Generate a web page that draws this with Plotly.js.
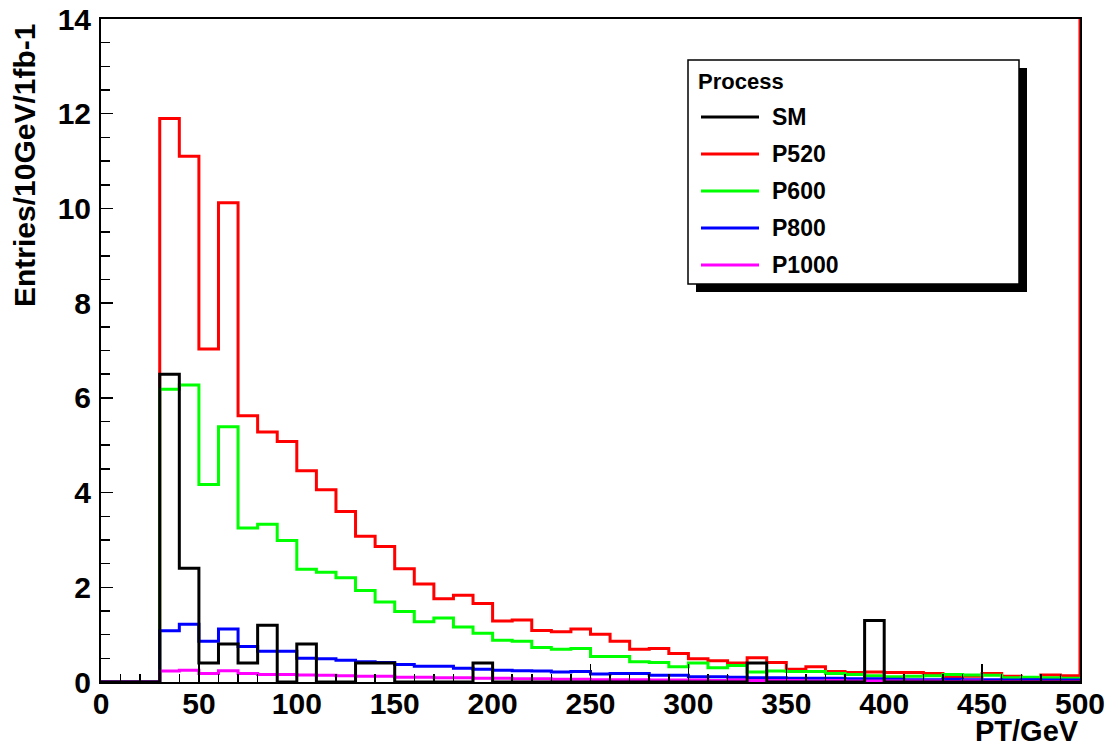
<!DOCTYPE html>
<html>
<head>
<meta charset="utf-8">
<script src="https://cdn.plot.ly/plotly-3.0.1.min.js"></script>
<style>
html,body{margin:0;padding:0;background:#fff;}
#chart{width:1108px;height:750px;}
</style>
</head>
<body>
<div id="chart"></div>
<script>
// Bin layout: 50 bins of 10 GeV from 0 to 500
var binWidth = 10;
var nBins = 50;

// Series (entries per 10 GeV per 1 fb-1), one value per bin
var seriesNames = ['SM', 'P520', 'P600', 'P800', 'P1000'];
var seriesColors = ['#000000', '#ff0000', '#00ff00', '#0000ff', '#ff00ff'];

var SM = [0,0,0, 6.5,2.4,0.4,0.8,0.4,1.2,0,0.8,0,0,0.4,0.4,0,0,0,0,0.4,
  0,0,0,0,0,0,0,0,0,0, 0,0,0,0.4,0,0,0,0,0,1.3, 0,0,0,0,0,0,0,0,0,0];
var P520 = [0,0,0, 11.9,11.1,7.03,10.12,5.62,5.28,5.08,4.46,4.06,3.6,3.08,2.86,2.39,2.07,1.76,1.83,1.66,
  1.29,1.31,1.09,1.06,1.12,1.01,0.86,0.69,0.71,0.60, 0.49,0.45,0.40,0.51,0.41,0.27,0.32,0.22,0.20,0.21,
  0.20,0.20,0.18,0.10,0.12,0.18,0.12,0.07,0.15,0.13];
var P520_overflow = 20;
var P600 = [0,0,0, 6.18,6.27,4.17,5.39,3.25,3.33,2.99,2.38,2.32,2.2,1.93,1.69,1.49,1.27,1.35,1.16,1.03,
  0.88,0.86,0.73,0.69,0.71,0.54,0.54,0.43,0.41,0.32, 0.40,0.30,0.35,0.21,0.23,0.22,0.22,0.18,0.16,0.13,
  0.11,0.12,0.13,0.16,0.15,0.14,0.09,0.10,0.09,0.08];
var P800 = [0,0,0, 1.08,1.22,0.86,1.12,0.75,0.65,0.65,0.50,0.49,0.46,0.43,0.41,0.37,0.33,0.33,0.29,0.27,
  0.25,0.24,0.23,0.21,0.22,0.17,0.18,0.18,0.14,0.14, 0.11,0.11,0.10,0.09,0.09,0.08,0.08,0.08,0.07,0.07,
  0.06,0.05,0.05,0.06,0.05,0.05,0.04,0.05,0.04,0.04];
var P1000 = [0,0,0, 0.23,0.25,0.18,0.24,0.18,0.16,0.16,0.15,0.14,0.13,0.12,0.12,0.10,0.10,0.09,0.09,0.08,
  0.08,0.07,0.07,0.06,0.06,0.05,0.05,0.05,0.04,0.04, 0.04,0.03,0.04,0.03,0.03,0.03,0.02,0.03,0.02,0.02,
  0.02,0.02,0.02,0.01,0.02,0.01,0.01,0.01,0.01,0.01];

var xTitle = 'PT/GeV';
var yTitle = 'Entries/10GeV/1fb-1';
var legendTitle = 'Process';

// bin edges
var edges = [];
for (var i = 0; i <= nBins; i++) edges.push(i * binWidth);

function stepTrace(vals, endVal, color) {
  return {
    type: 'scatter', mode: 'lines',
    x: edges.slice(),
    y: vals.concat([endVal]),
    line: {shape: 'hv', color: color, width: 3},
    showlegend: false, hoverinfo: 'skip'
  };
}

var seriesVals = [SM, P520, P600, P800, P1000];
var seriesEnd = [0, P520_overflow, 0, 0, 0];
// drawing order: signals first, SM on top
var drawOrder = [1, 2, 3, 4, 0];
var traces = drawOrder.map(function (k) {
  return stepTrace(seriesVals[k], seriesEnd[k], seriesColors[k]);
});

// pixel -> paper helpers (plot area: x 101..1080, y 19..682)
var L = 101, R = 1080, T = 19, B = 682;
function px(x) { return (x - L) / (R - L); }
function py(y) { return (B - y) / (B - T); }

var FONT = 'Liberation Sans, Arial, Helvetica, sans-serif';

var shapes = [
  {type: 'rect', xref: 'paper', yref: 'paper', x0: px(696), x1: px(1027), y0: py(292), y1: py(68),
   fillcolor: '#000', line: {width: 0}, layer: 'above'},
  {type: 'rect', xref: 'paper', yref: 'paper', x0: px(688), x1: px(1019), y0: py(284), y1: py(60),
   fillcolor: '#fff', line: {color: '#000', width: 1.5}, layer: 'above'}
];
var annotations = [
  {xref: 'paper', yref: 'paper', x: px(696), y: py(81), xanchor: 'left', yanchor: 'middle',
   text: legendTitle, showarrow: false, font: {family: FONT, size: 22, color: '#000', weight: 'bold'}},
  {xref: 'paper', yref: 'paper', x: px(24), y: py(166), xanchor: 'center', yanchor: 'middle',
   textangle: -90, text: yTitle, showarrow: false, font: {family: FONT, size: 30, color: '#000', weight: 'bold'}},
  {xref: 'paper', yref: 'paper', x: 1, y: py(731), xanchor: 'right', yanchor: 'middle', borderpad: 0,
   text: xTitle, showarrow: false, font: {family: FONT, size: 29, color: '#000', weight: 'bold'}}
];
var rowY = [117, 154, 191, 228, 265];
seriesNames.forEach(function (name, k) {
  shapes.push({type: 'line', xref: 'paper', yref: 'paper', x0: px(701), x1: px(759), y0: py(rowY[k]), y1: py(rowY[k]),
    line: {color: seriesColors[k], width: 3}, layer: 'above'});
  annotations.push({xref: 'paper', yref: 'paper', x: px(770), y: py(rowY[k]), xanchor: 'left', yanchor: 'middle',
    text: name, showarrow: false, font: {family: FONT, size: 23, color: '#000', weight: 'bold'}});
});

var tickFont = {family: FONT, size: 30, color: '#000', weight: 'bold'};

var layout = {
  width: 1108, height: 750,
  margin: {l: L, r: 1108 - R, t: T, b: 750 - B, pad: 0},
  paper_bgcolor: '#fff', plot_bgcolor: '#fff',
  showlegend: false,
  xaxis: {
    range: [0, 500], showgrid: false, zeroline: false,
    showline: true, linecolor: '#000', linewidth: 2, mirror: true,
    ticks: 'inside', tickcolor: '#000', ticklen: 18, tickwidth: 1.5, dtick: 50, tick0: 0,
    minor: {dtick: 10, ticks: 'inside', ticklen: 8, tickcolor: '#000', tickwidth: 1.5, showgrid: false},
    tickfont: tickFont, ticklabelstandoff: -6, fixedrange: true
  },
  yaxis: {
    range: [0, 14], showgrid: false, zeroline: false,
    showline: true, linecolor: '#000', linewidth: 2, mirror: true,
    ticks: 'inside', tickcolor: '#000', ticklen: 12, tickwidth: 1.5, dtick: 2, tick0: 0,
    minor: {dtick: 0.5, ticks: 'inside', ticklen: 9, tickcolor: '#000', tickwidth: 1.5, showgrid: false},
    tickfont: tickFont, ticklabelstandoff: 2, fixedrange: true
  },
  shapes: shapes,
  annotations: annotations
};

Plotly.newPlot('chart', traces, layout, {staticPlot: true, displayModeBar: false});
</script>
</body>
</html>
